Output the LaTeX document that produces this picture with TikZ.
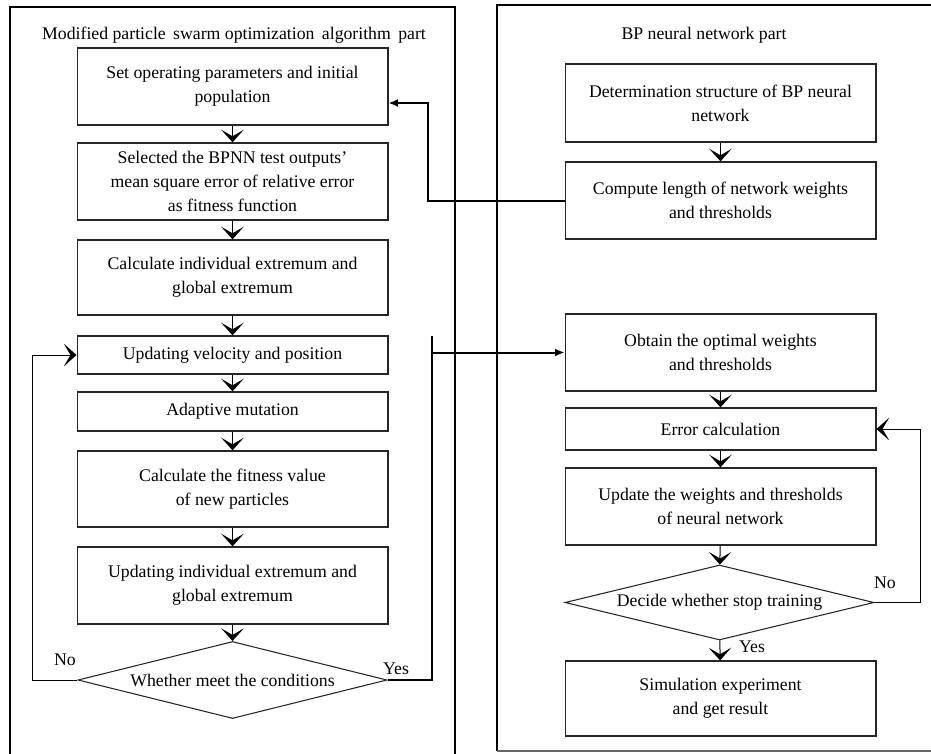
\documentclass[tikz,border=0pt]{standalone}
\usepackage{fontspec}
\setmainfont{Liberation Serif}
\usepackage{tikz}
\usetikzlibrary{arrows.meta, calc}
\usetikzlibrary{shapes.geometric}

\begin{document}
\begin{tikzpicture}[x=0.75pt,y=-0.75pt,
  font=\fontsize{13.3}{18}\selectfont,
  panel/.style={line width=1.8pt},
  procbox/.style={draw=black!85,line width=1pt,minimum width=233pt,align=center,inner sep=2pt},
  decide/.style={draw=black!85,shape=diamond,line width=0.8pt,aspect=4,inner sep=0pt,
                 minimum width=231.75pt,minimum height=57pt},
  flow/.style={line width=0.75pt,-{Stealth[length=9.5pt,width=17pt,inset=5pt]}},
  bold/.style={line width=1.5pt},
  boldarrow/.style={line width=1.5pt,-{Latex[length=7pt,width=6pt]}}]

\useasboundingbox (0,0) rectangle (931,753);

% ==================== Pannello 1: PSO ====================
\begin{scope}
  % Cornice
  \draw[panel] (10,770) -- (10,7) -- (455,7) -- (455,770);
  \node (psotitle) at (234,35) {Modified particle\, swarm optimization\, algorithm\, part};

  % Blocchi
  \node[procbox,minimum height=57.75pt] (b1) at (232.5,86.5)
    {Set operating parameters and initial\\population};
  \node[procbox,minimum height=57.75pt] (b2) at (232.5,181.5)
    {Selected the BPNN test outputs'\\mean square error of relative error\\as fitness function};
  \node[procbox,minimum height=56.25pt] (b3) at (232.5,277.5)
    {Calculate individual extremum and\\global extremum};
  \node[procbox,minimum height=28.5pt] (b4) at (232.5,355)
    {Updating velocity and position};
  \node[procbox,minimum height=29.25pt] (b5) at (232.5,411.5)
    {Adaptive mutation};
  \node[procbox,minimum height=57pt] (b6) at (232.5,489)
    {Calculate the fitness value\\of new particles};
  \node[procbox,minimum height=57.75pt] (b7) at (232.5,585.5)
    {Updating individual extremum and\\global extremum};
  \node[decide,minimum height=57.75pt] (d1) at (232.5,680) {Whether meet the conditions};

  % Frecce
  \draw[flow] (b1) -- (b2);
  \draw[flow] (b2) -- (b3);
  \draw[flow] (b3) -- (b4);
  \draw[flow] (b4) -- (b5);
  \draw[flow] (b5) -- (b6);
  \draw[flow] (b6) -- (b7);
  \draw[flow] (b7) -- (d1);

  % Ramo No
  \draw[flow] (d1.west) -- ++(-45,0) |- (b4.west);
  \node (no1) at (65,660) {No};

  % Ramo Yes
  \coordinate (ytop) at (432,336);
  \coordinate (yjoin) at (432,352.5);
  \draw[bold] (d1.east) -| (ytop);
  \node (yes1) at (396,669) {Yes};
\end{scope}


% ==================== Pannello 2: BP ====================
\begin{scope}
  % Cornice
  \draw[panel] (945,5) -- (497,5) -- (497,751);
  \draw[line width=1pt,black!60] (497,751) -- (945,751);
  \node (bptitle) at (704,35) {BP neural network part};

  % Blocchi
  \node[procbox,minimum height=58.5pt] (r1) at (720.5,103)
    {Determination structure of BP neural\\network};
  \node[procbox,minimum height=57.75pt] (r2) at (720.5,200.5)
    {Compute length of network weights\\and thresholds};
  \node[procbox,minimum height=57.75pt] (r3) at (720.5,352.5)
    {Obtain the optimal weights\\and thresholds};
  \node[procbox,minimum height=31.5pt] (r4) at (720.5,429)
    {Error calculation};
  \node[procbox,minimum height=57.75pt] (r5) at (720.5,506.5)
    {Update the weights and thresholds\\of neural network};
  \node[decide,minimum height=56.25pt] (d2) at (719.5,602.5) {Decide whether stop training};
  \node[procbox,minimum height=56.25pt] (r6) at (720.5,698.5)
    {Simulation experiment\\and get result};

  % Frecce
  \draw[flow] (r1) -- (r2);
  \draw[flow] (r3) -- (r4);
  \draw[flow] (r4) -- (r5);
  \draw[flow] (r5) -- (d2);
  \draw[flow] (d2) -- (r6);
  \node (yes2) at (752,647) {Yes};

  % Ramo No
  \draw[flow] (d2.east) -- ++(46,0) |- (r4.east);
  \node (no2) at (885,583) {No};
\end{scope}


% ==================== Collegamenti tra i pannelli ====================
\coordinate (fbend) at (428,103);
\draw[boldarrow] (r2.west) -| (fbend) -- (b1.east |- fbend);
\draw[boldarrow] (yjoin) -- (r3.west);

\end{tikzpicture}
\end{document}
